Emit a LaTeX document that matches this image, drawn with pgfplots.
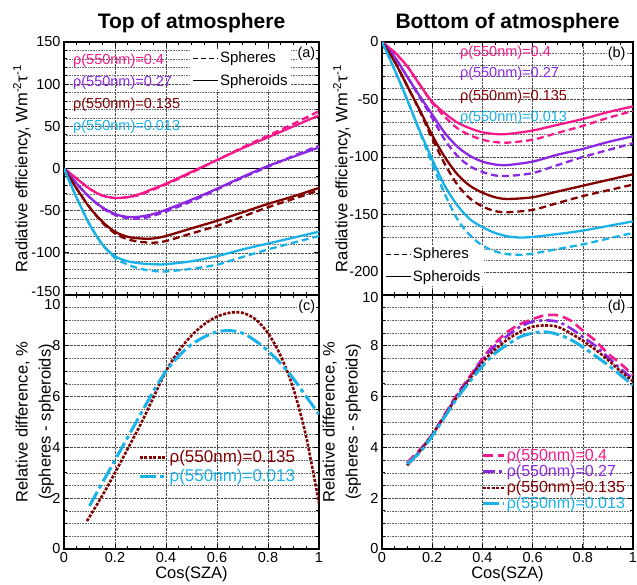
\documentclass[border=0pt]{standalone}
\usepackage{fontspec}
\setmainfont{Liberation Sans}
\usepackage{pgfplots}
\pgfplotsset{compat=1.18}
\definecolor{cpink}{RGB}{245,25,140}
\definecolor{cpurp}{RGB}{140,40,225}
\definecolor{cdred}{RGB}{130,0,0}
\definecolor{cblue}{RGB}{25,178,232}
\pgfplotsset{
  myaxis/.style={
    scale only axis, anchor=south west,
    xmin=0, xmax=1, xtick={0,0.2,0.4,0.6,0.8,1}, minor x tick num=3,
    tick align=inside,
    xmajorgrids, ymajorgrids, yminorgrids,
    grid style={densely dotted, black!70, line width=0.6pt},
    minor grid style={densely dotted, black!60, line width=0.5pt},
    major tick length=5pt, minor tick length=3pt,
    tick style={black, line width=0.9pt},
    axis line style={line width=1.3pt},
    tick label style={font=\fontsize{14.5}{17}\selectfont},
    /pgf/number format/assume math mode=true,
    label style={font=\fontsize{16.5}{23}\selectfont},
    title style={font=\fontsize{21}{25}\selectfont\bfseries},
    legend cell align=left,
  },
  slglegend/.style={
    legend image code/.code={\draw[##1] (0pt,0pt) -- (25pt,0pt);},
    legend style={draw=none, fill=white, font=\fontsize{15}{18}\selectfont,
      row sep=7pt, inner sep=2pt, nodes={inner sep=1.5pt}},
  },
}
\begin{document}
\begin{tikzpicture}[x=1pt,y=1pt]
\useasboundingbox (0,0) rectangle (637,585);
% ---------------- (a)
\begin{axis}[myaxis, at={(64pt,290pt)}, width=255pt, height=253pt,
  ymin=-150, ymax=150, ytick={-150,-100,-50,0,50,100,150}, minor y tick num=4,
  yticklabels={\raisebox{-2pt}[0pt][0pt]{-150},-100,-50,0,50,100,150},
  xticklabels={},
  title={Top of atmosphere},
  ylabel={Radiative efficiency, Wm\textsuperscript{-2}τ\textsuperscript{-1}},
  ylabel style={at={(rel axis cs:-0.165,0.5)}, anchor=center},
  slglegend,
  legend style={at={(rel axis cs:0.495,0.975)}, anchor=north west},
]
\addlegendimage{black, line width=1.2pt, dash pattern=on 5pt off 3pt}
\addlegendentry{Spheres}
\addlegendimage{black, line width=0.9pt}
\addlegendentry{Spheroids}
\addplot[black, line width=1.2pt, forget plot] coordinates {(0,0) (1,0)};
\addplot[cpink, line width=2.3pt, smooth, forget plot] coordinates {(0,0)(0.05,-12)(0.1,-24)(0.15,-32)(0.2,-35)(0.25,-34)(0.3,-30)(0.35,-24)(0.4,-18)(0.5,-4)(0.6,10)(0.7,24)(0.8,37)(0.9,50)(1,63)};
\addplot[cpink, line width=2.3pt, smooth, dash pattern=on 7pt off 4pt, forget plot] coordinates {(0,0)(0.05,-12)(0.1,-24)(0.15,-32)(0.2,-35)(0.25,-34)(0.3,-31)(0.35,-25)(0.4,-19)(0.5,-5)(0.6,10)(0.7,25)(0.8,39)(0.9,53)(1,68)};
\addplot[cpurp, line width=2.3pt, smooth, forget plot] coordinates {(0,0)(0.05,-18)(0.1,-34)(0.15,-46)(0.2,-54)(0.25,-57.5)(0.3,-57)(0.35,-54)(0.4,-49)(0.5,-37)(0.6,-24)(0.7,-10)(0.8,3)(0.9,14)(1,25)};
\addplot[cpurp, line width=2.3pt, smooth, dash pattern=on 7pt off 4pt, forget plot] coordinates {(0,0)(0.05,-18)(0.1,-34)(0.15,-47)(0.2,-55)(0.25,-59)(0.3,-59.5)(0.35,-56)(0.4,-51)(0.5,-39)(0.6,-25)(0.7,-11)(0.8,2)(0.9,15)(1,27)};
\addplot[cdred, line width=2.3pt, smooth, forget plot] coordinates {(0,0)(0.05,-24)(0.1,-46)(0.15,-63)(0.2,-75)(0.25,-81)(0.3,-83)(0.35,-83)(0.4,-80)(0.5,-71)(0.6,-62)(0.7,-52)(0.8,-42)(0.9,-33)(1,-23)};
\addplot[cdred, line width=2.3pt, smooth, dash pattern=on 7pt off 4pt, forget plot] coordinates {(0,0)(0.05,-24)(0.1,-46)(0.15,-64)(0.2,-77)(0.25,-84)(0.3,-87)(0.35,-88)(0.4,-86)(0.5,-77)(0.6,-68)(0.7,-57)(0.8,-46)(0.9,-36)(1,-26)};
\addplot[cblue, line width=2.3pt, smooth, forget plot] coordinates {(0,0)(0.05,-35)(0.1,-66)(0.15,-90)(0.2,-104)(0.25,-110)(0.3,-112.5)(0.35,-113.5)(0.4,-113.5)(0.5,-110)(0.6,-104)(0.7,-96)(0.8,-89)(0.9,-82)(1,-75)};
\addplot[cblue, line width=2.3pt, smooth, dash pattern=on 7pt off 4pt, forget plot] coordinates {(0,0)(0.05,-35)(0.1,-66)(0.15,-90)(0.2,-106)(0.25,-114)(0.3,-119)(0.35,-121.5)(0.4,-122)(0.5,-119)(0.6,-114)(0.7,-105)(0.8,-96)(0.9,-88)(1,-80)};
\node[anchor=west, text=cpink, font=\fontsize{14.5}{17}\selectfont, inner sep=0pt] at (rel axis cs:0.035,0.925) {ρ(550nm)=0.4};
\node[anchor=west, text=cpurp, font=\fontsize{14.5}{17}\selectfont, inner sep=0pt] at (rel axis cs:0.035,0.838) {ρ(550nm)=0.27};
\node[anchor=west, text=cdred, font=\fontsize{14.5}{17}\selectfont, inner sep=0pt] at (rel axis cs:0.035,0.751) {ρ(550nm)=0.135};
\node[anchor=west, text=cblue, font=\fontsize{14.5}{17}\selectfont, inner sep=0pt] at (rel axis cs:0.035,0.664) {ρ(550nm)=0.013};
\node[anchor=north east, fill=white, inner sep=1pt, font=\fontsize{14.5}{17}\selectfont] at (rel axis cs:0.99,0.985) {(a)};
\end{axis}
% ---------------- (b)
\begin{axis}[myaxis, at={(382pt,290pt)}, width=251pt, height=253pt,
  ymin=-220, ymax=0, ytick={-200,-150,-100,-50,0}, minor y tick num=4,
  xticklabels={},
  title={Bottom of atmosphere},
  ylabel={Radiative efficiency, Wm\textsuperscript{-2}τ\textsuperscript{-1}},
  ylabel style={at={(rel axis cs:-0.16,0.5)}, anchor=center},
  slglegend,
  legend style={at={(rel axis cs:0.004,0.2)}, anchor=north west},
]
\addlegendimage{black, line width=1.2pt, dash pattern=on 5pt off 3pt}
\addlegendentry{Spheres}
\addlegendimage{black, line width=0.9pt}
\addlegendentry{Spheroids}
\addplot[cpink, line width=2.3pt, smooth, forget plot] coordinates {(0,0)(0.05,-9)(0.1,-21)(0.15,-37)(0.2,-52)(0.25,-62)(0.3,-70)(0.35,-75)(0.4,-78.5)(0.45,-80)(0.5,-80)(0.6,-77)(0.7,-72)(0.8,-67)(0.9,-61)(1,-56)};
\addplot[cpink, line width=2.3pt, smooth, dash pattern=on 7pt off 4pt, forget plot] coordinates {(0,0)(0.05,-9)(0.1,-21)(0.15,-37)(0.2,-53)(0.25,-65)(0.3,-75)(0.35,-81)(0.4,-85)(0.45,-87)(0.5,-87.5)(0.6,-85)(0.7,-79)(0.8,-73)(0.9,-66)(1,-60)};
\addplot[cpurp, line width=2.3pt, smooth, forget plot] coordinates {(0,0)(0.05,-13)(0.1,-30)(0.15,-47)(0.2,-63)(0.25,-79)(0.3,-91)(0.35,-99)(0.4,-104)(0.45,-106.5)(0.5,-107)(0.6,-104)(0.7,-98)(0.8,-93)(0.9,-87)(1,-82)};
\addplot[cpurp, line width=2.3pt, smooth, dash pattern=on 7pt off 4pt, forget plot] coordinates {(0,0)(0.05,-13)(0.1,-30)(0.15,-48)(0.2,-66)(0.25,-85)(0.3,-99)(0.35,-108)(0.4,-113)(0.45,-116)(0.5,-116.5)(0.6,-114)(0.7,-107)(0.8,-100)(0.9,-94)(1,-88)};
\addplot[cdred, line width=2.3pt, smooth, forget plot] coordinates {(0,0)(0.05,-17)(0.1,-38)(0.15,-59)(0.2,-81)(0.25,-100)(0.3,-115)(0.35,-125)(0.4,-131)(0.45,-135)(0.5,-136.5)(0.6,-135)(0.7,-130)(0.8,-125)(0.9,-120)(1,-115)};
\addplot[cdred, line width=2.3pt, smooth, dash pattern=on 7pt off 4pt, forget plot] coordinates {(0,0)(0.05,-17)(0.1,-38)(0.15,-60)(0.2,-84)(0.25,-106)(0.3,-124)(0.35,-136)(0.4,-143)(0.45,-147)(0.5,-148)(0.6,-146)(0.7,-140)(0.8,-134)(0.9,-129)(1,-124)};
\addplot[cblue, line width=2.3pt, smooth, forget plot] coordinates {(0,0)(0.05,-24)(0.1,-50)(0.15,-77)(0.2,-102)(0.25,-125)(0.3,-142)(0.35,-154)(0.4,-161)(0.45,-166)(0.5,-169)(0.55,-170)(0.6,-169.5)(0.7,-167)(0.8,-164)(0.9,-160)(1,-156)};
\addplot[cblue, line width=2.3pt, smooth, dash pattern=on 7pt off 4pt, forget plot] coordinates {(0,0)(0.05,-24)(0.1,-50)(0.15,-78)(0.2,-106)(0.25,-132)(0.3,-154)(0.35,-168)(0.4,-177)(0.45,-182)(0.5,-184.5)(0.55,-185)(0.6,-184)(0.7,-180)(0.8,-176)(0.9,-171)(1,-166)};
\node[anchor=west, text=cpink, font=\fontsize{14.5}{17}\selectfont, inner sep=0pt] at (rel axis cs:0.31,0.957) {ρ(550nm)=0.4};
\node[anchor=west, text=cpurp, font=\fontsize{14.5}{17}\selectfont, inner sep=0pt] at (rel axis cs:0.31,0.875) {ρ(550nm)=0.27};
\node[anchor=west, text=cdred, font=\fontsize{14.5}{17}\selectfont, inner sep=0pt] at (rel axis cs:0.31,0.785) {ρ(550nm)=0.135};
\node[anchor=west, text=cblue, font=\fontsize{14.5}{17}\selectfont, inner sep=0pt] at (rel axis cs:0.31,0.70) {ρ(550nm)=0.013};
\node[anchor=north east, fill=white, inner sep=1pt, font=\fontsize{14.5}{17}\selectfont] at (rel axis cs:0.975,0.985) {(b)};
\end{axis}
% ---------------- (c)
\begin{axis}[myaxis, at={(64pt,36pt)}, width=255pt, height=254pt,
  ymin=0, ymax=10, ytick={0,2,4,6,8,10}, minor y tick num=3,
  yticklabels={0,2,4,6,8,\raisebox{-15pt}[0pt][0pt]{10}},
  xticklabels={0,0.2,0.4,0.6,0.8,1},
  xlabel={Cos(SZA)},
  xlabel style={at={(rel axis cs:0.5,-0.1)}, anchor=center},
  ylabel={Relative difference, \%\\(spheres - spheroids)},
  ylabel style={at={(rel axis cs:-0.114,0.5)}, anchor=center, align=center},
  legend image code/.code={\draw[#1] (0pt,0pt) -- (27pt,0pt);},
  legend style={at={(rel axis cs:0.29,0.395)}, anchor=north west, draw=none, fill=none,
    font=\fontsize{17}{20}\selectfont, row sep=2pt, inner sep=0pt, nodes={inner sep=1.5pt}},
]
\addplot[cdred, line width=2.6pt, smooth, dash pattern=on 3pt off 1.5pt] coordinates {(0.09,1.1)(0.15,2.1)(0.2,3.0)(0.25,3.95)(0.3,4.9)(0.35,5.95)(0.4,7.0)(0.45,7.8)(0.5,8.4)(0.55,8.85)(0.6,9.15)(0.65,9.3)(0.7,9.3)(0.75,9.05)(0.8,8.5)(0.85,7.6)(0.9,6.3)(0.95,4.4)(1,1.8)};
\addlegendentry{\textcolor{cdred}{ρ(550nm)=0.135}}
\addplot[cblue, line width=3pt, smooth, dash pattern=on 16pt off 4pt on 4pt off 4pt] coordinates {(0.1,1.7)(0.15,2.6)(0.2,3.5)(0.25,4.4)(0.3,5.3)(0.35,6.2)(0.4,7.0)(0.45,7.6)(0.5,8.05)(0.55,8.35)(0.6,8.55)(0.65,8.6)(0.7,8.5)(0.75,8.2)(0.8,7.8)(0.85,7.3)(0.9,6.7)(0.95,6.0)(1,5.3)};
\addlegendentry{\textcolor{cblue}{ρ(550nm)=0.013}}
\node[anchor=north east, fill=white, inner sep=1pt, font=\fontsize{14.5}{17}\selectfont] at (rel axis cs:0.99,0.985) {(c)};
\end{axis}
% ---------------- (d)
\begin{axis}[myaxis, at={(382pt,36pt)}, width=251pt, height=254pt,
  ymin=0, ymax=10, ytick={0,2,4,6,8,10}, minor y tick num=3,
  yticklabels={0,2,4,6,8,\raisebox{-8pt}[0pt][0pt]{10}},
  xticklabels={0,0.2,0.4,0.6,0.8,1},
  xlabel={Cos(SZA)},
  xlabel style={at={(rel axis cs:0.5,-0.1)}, anchor=center},
  ylabel={Relative difference, \%\\(spheres - spheroids)},
  ylabel style={at={(rel axis cs:-0.16,0.5)}, anchor=center, align=center},
  legend image code/.code={\draw[#1] (0pt,0pt) -- (21pt,0pt);},
  legend style={at={(rel axis cs:0.395,0.40)}, anchor=north west, draw=none, fill=none,
    font=\fontsize{16}{19}\selectfont, row sep=0pt, inner sep=0pt, nodes={inner sep=1.5pt}},
]
\addplot[cpink, line width=2.6pt, smooth, dash pattern=on 10pt off 5pt] coordinates {(0.1,3.4)(0.15,3.9)(0.2,4.5)(0.25,5.3)(0.3,6.1)(0.35,6.8)(0.4,7.5)(0.45,8.1)(0.5,8.55)(0.55,8.85)(0.6,9.05)(0.65,9.2)(0.7,9.2)(0.75,9.0)(0.8,8.6)(0.85,8.2)(0.9,7.7)(0.95,7.3)(1,6.85)};
\addlegendentry{\textcolor{cpink}{ρ(550nm)=0.4}}
\addplot[cpurp, line width=2.6pt, smooth, dash pattern=on 12pt off 4pt on 3pt off 4pt] coordinates {(0.1,3.3)(0.15,3.85)(0.2,4.5)(0.25,5.25)(0.3,6.05)(0.35,6.75)(0.4,7.45)(0.45,8.0)(0.5,8.4)(0.55,8.75)(0.6,8.95)(0.65,9.0)(0.7,8.95)(0.75,8.7)(0.8,8.35)(0.85,8.0)(0.9,7.55)(0.95,7.1)(1,6.7)};
\addlegendentry{\textcolor{cpurp}{ρ(550nm)=0.27}}
\addplot[cdred, line width=2.6pt, smooth, dash pattern=on 3pt off 1.5pt] coordinates {(0.1,3.3)(0.15,3.85)(0.2,4.5)(0.25,5.25)(0.3,6.0)(0.35,6.7)(0.4,7.35)(0.45,7.85)(0.5,8.25)(0.55,8.55)(0.6,8.75)(0.65,8.8)(0.7,8.75)(0.75,8.5)(0.8,8.2)(0.85,7.85)(0.9,7.45)(0.95,7.0)(1,6.6)};
\addlegendentry{\textcolor{cdred}{ρ(550nm)=0.135}}
\addplot[cblue, line width=3pt, smooth, dash pattern=on 16pt off 4pt on 4pt off 4pt] coordinates {(0.1,3.35)(0.15,3.8)(0.2,4.45)(0.25,5.2)(0.3,5.95)(0.35,6.6)(0.4,7.2)(0.45,7.7)(0.5,8.05)(0.55,8.35)(0.6,8.5)(0.65,8.55)(0.7,8.45)(0.75,8.25)(0.8,7.95)(0.85,7.6)(0.9,7.25)(0.95,6.85)(1,6.45)};
\addlegendentry{\textcolor{cblue}{ρ(550nm)=0.013}}
\node[anchor=north east, fill=white, inner sep=1pt, font=\fontsize{14.5}{17}\selectfont] at (rel axis cs:0.975,0.985) {(d)};
\end{axis}
\end{tikzpicture}
\end{document}
